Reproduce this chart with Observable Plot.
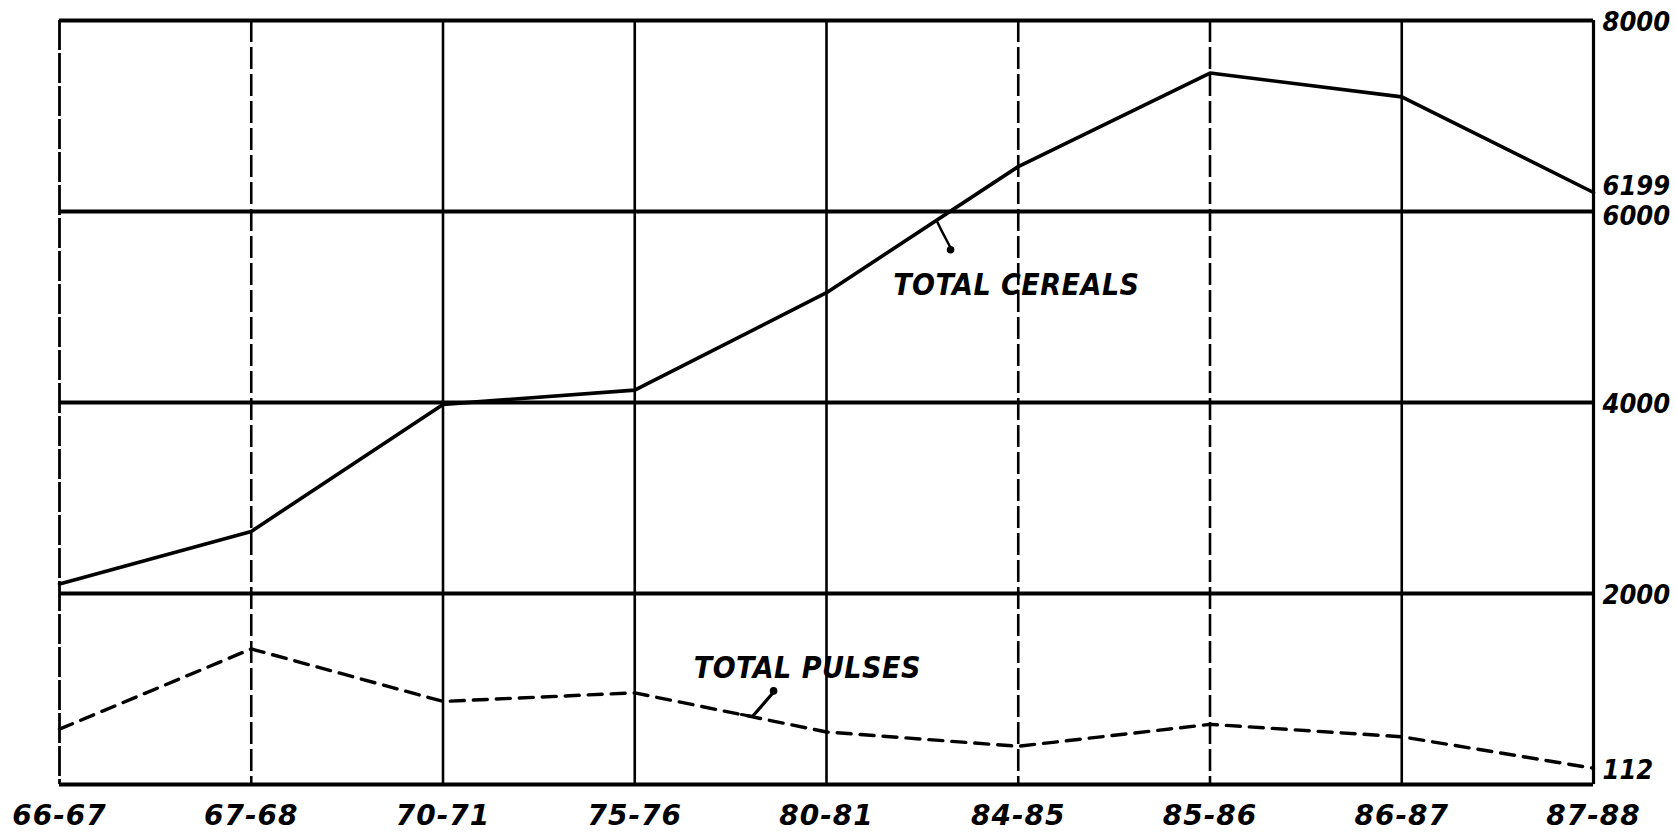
<!DOCTYPE html>
<html>
<head>
<meta charset="utf-8">
<script src="https://cdn.jsdelivr.net/npm/d3@7"></script>
<script src="https://cdn.jsdelivr.net/npm/@observablehq/plot@0.6"></script>
<style>
  html, body { margin: 0; padding: 0; background: #fff; }
  #chart svg { display: block; }
  #chart g[aria-label="y-axis tick label"] text { letter-spacing: 0; font-stretch: condensed; }
  #chart g[aria-label="x-axis tick label"] text { letter-spacing: 1px; }
</style>
</head>
<body>
<div id="chart"></div>
<script>
// ---- data ----
const periods = ["66-67", "67-68", "70-71", "75-76", "80-81", "84-85", "85-86", "86-87", "87-88"];
const cereals = [2100, 2650, 3980, 4130, 5150, 6470, 7450, 7200, 6199];
const pulses  = [580, 1420, 870, 960, 550, 400, 630, 500, 170];
const yTickValues = [2000, 4000, 8000];
const yTickShifted = [6000];
const endLabels = [{value: 6199, text: "6199"}, {value: 170, text: "112"}];
const gridValues = [0, 2000, 4000, 6000, 8000];
const dashedPeriods = ["67-68", "84-85", "85-86"];

// annotation anchors (in data units: period index, value)
const cerealLabel = [{x: 4.99, y: 5230, text: "TOTAL CEREALS"}];
const cerealLeader = [{x: 4.574, y: 5905}, {x: 4.60, y: 5800}, {x: 4.647, y: 5620}];
const pulseLabel = [{x: 3.90, y: 1215, text: "TOTAL PULSES"}];
const pulseLeader = [{x: 3.557, y: 733}, {x: 3.614, y: 712}, {x: 3.718, y: 953}];
const leaderDots = [{x: 4.647, y: 5600}, {x: 3.724, y: 980}];

const rows = periods.map((p, i) => ({i, p, cereals: cereals[i], pulses: pulses[i]}));
const idx = periods.map((_, i) => i);
const last = periods.length - 1;
const solidIdx = idx.filter(i => i > 0 && i < last && !dashedPeriods.includes(periods[i]));
const dashedIdx = idx.filter(i => dashedPeriods.includes(periods[i]));

const font = "'DejaVu Sans', sans-serif";
const labelStyle = {fontSize: 28, fontFamily: font, fontStyle: "italic", fontWeight: "bold"};
const rightStyle = {...labelStyle, fontSize: 27};
const yAxisOpts = {anchor: "right", tickFormat: d => String(d), tickSize: 0, tickPadding: 9, ...rightStyle, label: null};

const chart = Plot.plot({
  width: 1676,
  height: 832,
  marginLeft: 59,
  marginRight: 83,
  marginTop: 20,
  marginBottom: 48,
  style: {fontFamily: font, fontStyle: "italic", fontWeight: "bold", color: "#000", background: "#fff"},
  x: {type: "linear", domain: [0, last]},
  y: {domain: [0, 8000]},
  marks: [
    // vertical grid
    Plot.ruleX(solidIdx, {stroke: "#000", strokeWidth: 2.6}),
    Plot.ruleX(dashedIdx, {stroke: "#000", strokeWidth: 2.6, strokeDasharray: "22,5"}),
    Plot.ruleX([0], {stroke: "#000", strokeWidth: 2.8, strokeDasharray: "30,3"}),
    Plot.ruleX([last], {stroke: "#000", strokeWidth: 3.2}),
    // horizontal grid
    Plot.ruleY(gridValues, {stroke: "#000", strokeWidth: 4}),
    // series
    Plot.line(rows, {x: "i", y: "cereals", stroke: "#000", strokeWidth: 3.6}),
    Plot.line(rows, {x: "i", y: "pulses", stroke: "#000", strokeWidth: 3.4, strokeDasharray: "14,9"}),
    // annotations
    Plot.line(cerealLeader, {x: "x", y: "y", stroke: "#000", strokeWidth: 2.4}),
    Plot.line(pulseLeader, {x: "x", y: "y", stroke: "#000", strokeWidth: 3.2}),
    Plot.dot(leaderDots, {x: "x", y: "y", r: 3.8, fill: "#000"}),
    Plot.text(cerealLabel, {x: "x", y: "y", text: "text", ...labelStyle, fontSize: 30}),
    Plot.text(pulseLabel, {x: "x", y: "y", text: "text", ...labelStyle, fontSize: 30}),
    // end-value labels on the right
    Plot.text(endLabels.slice(0, 1), {x: last, y: "value", text: "text", dx: 9, dy: -6, textAnchor: "start", ...rightStyle}),
    Plot.text(endLabels.slice(1), {x: last, y: "value", text: "text", dx: 9, dy: 2, textAnchor: "start", ...rightStyle}),
    // axes
    Plot.axisX({
      ticks: idx,
      tickFormat: i => periods[i],
      tickSize: 0,
      tickPadding: 21,
      ...labelStyle,
      label: null
    }),
    Plot.axisY({...yAxisOpts, ticks: yTickValues, dy: 2}),
    Plot.axisY({...yAxisOpts, ticks: yTickShifted, dy: 5})
  ]
});

// condensed lettering for the end-value labels and the series annotations
const endTexts = new Set(endLabels.map(d => d.text));
const annTexts = new Set([...cerealLabel, ...pulseLabel].map(d => d.text));
d3.select(chart).selectAll("text").each(function() {
  const t = this.textContent;
  if (endTexts.has(t)) {
    this.style.fontStretch = "condensed";
    this.style.letterSpacing = "0px";
  } else if (annTexts.has(t)) {
    this.style.fontStretch = "condensed";
    this.style.letterSpacing = "0.5px";
  }
});

document.getElementById("chart").appendChild(chart);
</script>
</body>
</html>
